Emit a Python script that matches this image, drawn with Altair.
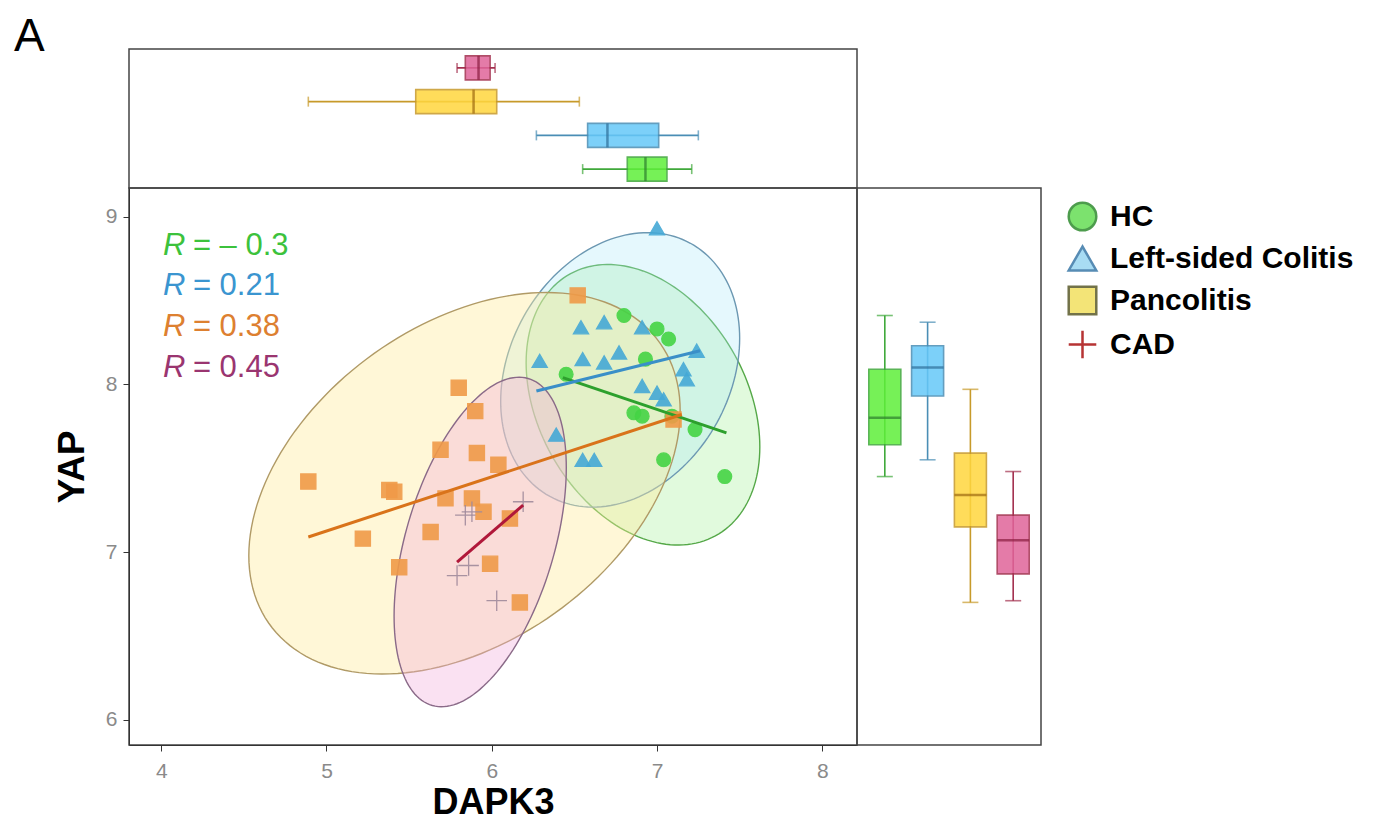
import altair as alt
import numpy as np
import pandas as pd

FONT = "Liberation Sans"
GROUPS = ["HC", "Left-sided Colitis", "Pancolitis", "CAD"]

# ---- scatter values (DAPK3, YAP) ----
HC_X = [6.80, 7.00, 7.07, 6.93, 6.86, 6.91, 7.09, 7.23, 7.04, 7.41, 6.45]
HC_Y = [8.41, 8.33, 8.27, 8.15, 7.83, 7.81, 7.81, 7.73, 7.55, 7.45, 8.06]
LSC_X = [7.00, 6.54, 6.68, 6.91, 6.29, 6.55, 6.68, 6.77, 7.24, 7.16, 7.18, 6.91, 7.00, 6.39, 6.55, 6.62, 7.04]
LSC_Y = [8.93, 8.34, 8.37, 8.34, 8.14, 8.15, 8.13, 8.19, 8.20, 8.09, 8.03, 7.99, 7.95, 7.70, 7.55, 7.55, 7.91]
PANC_X = [4.89, 5.22, 5.41, 5.44, 5.80, 5.90, 5.69, 5.91, 6.04, 5.72, 5.88, 5.95, 6.11, 5.63, 5.99, 6.17, 6.52, 7.10, 5.38]
PANC_Y = [7.42, 7.08, 7.36, 6.91, 7.98, 7.84, 7.61, 7.59, 7.52, 7.32, 7.32, 7.24, 7.20, 7.12, 6.93, 6.70, 8.53, 7.79, 7.37]
CAD_X = [5.84, 5.88, 5.86, 5.79, 6.03, 6.19]
CAD_Y = [7.22, 7.24, 6.92, 6.86, 6.71, 7.30]

# ---- 95% ellipses: centre, half-ranges, correlation ----
ELL_CX = [6.915, 6.777, 5.835, 5.93]
ELL_CY = [7.878, 8.086, 7.41, 7.06]
ELL_A = [0.707, 0.723, 1.305, 0.521]
ELL_B = [0.836, 0.818, 1.137, 0.982]
ELL_R = [-0.30, 0.23, 0.38, 0.45]

# ---- fitted lines (start/end) ----
FIT_X0 = [6.43, 6.27, 4.89, 5.79]
FIT_X1 = [7.42, 7.26, 7.15, 6.19]
FIT_Y0 = [8.04, 7.96, 7.09, 6.94]
FIT_Y1 = [7.71, 8.20, 7.82, 7.28]

# ---- correlation labels ----
R_TEXT = ["= \u2013 0.3", "= 0.21", "= 0.38", "= 0.45"]
R_Y = [8.827, 8.583, 8.339, 8.095]

# ---- marginal boxplots: min, q1, median, q3, max ----
BX_MIN = [6.55, 6.27, 4.89, 5.79]
BX_Q1 = [6.82, 6.58, 5.54, 5.84]
BX_MED = [6.93, 6.70, 5.89, 5.92]
BX_Q3 = [7.06, 7.01, 6.03, 5.99]
BX_MAX = [7.21, 7.25, 6.53, 6.02]
BY_MIN = [7.45, 7.55, 6.70, 6.71]
BY_Q1 = [7.64, 7.93, 7.15, 6.87]
BY_MED = [7.80, 8.10, 7.34, 7.07]
BY_Q3 = [8.09, 8.23, 7.59, 7.22]
BY_MAX = [8.41, 8.37, 7.97, 7.48]

# ---- styles ----
PT_FILL = ["#45D445", "#45A9D6", "#F09A48", "#FFFFFF"]
PT_STROKE = ["#45D445", "#45A9D6", "#F09A48", "#A08A9C"]
PT_SHAPE = ["circle", "triangle-up", "square", "M-1,0H1M0,-1V1"]
PT_SIZE = [190, 230, 230, 420]
PT_FILLED = [True, True, True, False]
LEG_FILL = ["#66DD55", "#9AD6F2", "#F2E060", "#AA1111"]
LEG_STROKE = ["#2E8B2E", "#3A78A8", "#5A5A2A", "#AA1111"]
ELL_FILL = ["#9BF08F", "#A8E8FA", "#FFEA9A", "#F2A8DA"]
ELL_FILL_OP = [0.30, 0.30, 0.40, 0.35]
ELL_STROKE = ["#55A848", "#6C98B2", "#B09A66", "#8A6A88"]
FIT_COL = ["#2DA02D", "#3A8FC8", "#D9731A", "#B0183A"]
R_COL = ["#3CC23C", "#3A95D0", "#DD8030", "#9A3570"]
BOX_FILL = ["#5FEF3A", "#66C8F8", "#FFD63E", "#E0649A"]
BOX_STROKE = ["#3FA83A", "#4A8EB5", "#C79A2A", "#A3304F"]
BOX_MED = ["#2E7D2E", "#2E6E99", "#9E6A10", "#8A1E40"]

X_DOMAIN = [3.805, 8.21]
Y_DOMAIN = [5.85, 9.17]
W_MAIN, H_MAIN = 728, 557
H_TOP, W_RIGHT = 139, 184

xs = alt.Scale(domain=X_DOMAIN, nice=False, zero=False)
ys = alt.Scale(domain=Y_DOMAIN, nice=False, zero=False)
x_axis = alt.Axis(values=[4, 5, 6, 7, 8], title="DAPK3", grid=False, format="d",
                  labelFontSize=21, labelColor="#8a8a8a", labelPadding=9,
                  tickSize=6, tickColor="#333333", domainColor="#333333",
                  titleFontSize=36, titleFontWeight="bold", titleColor="black",
                  titlePadding=4)
y_axis = alt.Axis(values=[6, 7, 8, 9], title="YAP", grid=False, format="d",
                  labelFontSize=21, labelColor="#8a8a8a", labelPadding=6,
                  tickSize=6, tickColor="#333333", domainColor="#333333",
                  titleFontSize=37, titleFontWeight="bold", titleColor="black",
                  titlePadding=14)


def X(field):
    return alt.X(field, type="quantitative", scale=xs, axis=x_axis)


def Y(field):
    return alt.Y(field, type="quantitative", scale=ys, axis=y_axis)


# scatter table
rows = []
for g, xv, yv in zip(GROUPS, [HC_X, LSC_X, PANC_X, CAD_X], [HC_Y, LSC_Y, PANC_Y, CAD_Y]):
    for a, b in zip(xv, yv):
        rows.append({"group": g, "DAPK3": a, "YAP": b})
pts = pd.DataFrame(rows)

layers = []
# ellipses
for i, g in enumerate(GROUPS):
    t = np.linspace(0, 2 * np.pi, 161)
    phi = np.arccos(ELL_R[i])
    edf = pd.DataFrame({
        "i": np.arange(len(t)),
        "ex": ELL_CX[i] + ELL_A[i] * np.cos(t),
        "ey": ELL_CY[i] + ELL_B[i] * np.cos(t - phi),
    })
    layers.append(
        alt.Chart(edf).mark_line(fill=ELL_FILL[i], fillOpacity=ELL_FILL_OP[i],
                                 stroke=ELL_STROKE[i], strokeWidth=1.4)
        .encode(x=X("ex"), y=Y("ey"), order=alt.Order("i:Q"))
    )

# scatter points, one layer per group
for i, g in enumerate(GROUPS):
    base = alt.Chart(pts).transform_filter(alt.datum.group == g)
    if PT_FILLED[i]:
        mk = base.mark_point(shape=PT_SHAPE[i], size=PT_SIZE[i], filled=True,
                             fill=PT_FILL[i], stroke=PT_STROKE[i], strokeWidth=1.3, opacity=0.9)
    else:
        mk = base.mark_point(shape=PT_SHAPE[i], size=PT_SIZE[i], filled=False,
                             stroke=PT_STROKE[i], strokeWidth=1.3, opacity=0.9)
    layers.append(mk.encode(x=X("DAPK3"), y=Y("YAP")))

# legend carrier (invisible points, legend styled like the reference keys)
legend = alt.Legend(
    title=None, orient="none", legendX=938, legendY=152,
    labelFont=FONT, labelFontSize=30, labelFontWeight="bold", labelColor="black",
    labelLimit=500, symbolSize=760, symbolStrokeWidth=2.5, rowPadding=5, labelOffset=12,
    symbolOpacity=1,
)
layers.append(
    alt.Chart(pts).mark_point(filled=True, opacity=0).encode(
        x=X("DAPK3"), y=Y("YAP"),
        fill=alt.Fill("group:N", scale=alt.Scale(domain=GROUPS, range=LEG_FILL), legend=legend),
        stroke=alt.Stroke("group:N", scale=alt.Scale(domain=GROUPS, range=LEG_STROKE), legend=legend),
        shape=alt.Shape("group:N", scale=alt.Scale(domain=GROUPS, range=PT_SHAPE), legend=legend),
    )
)

for i, g in enumerate(GROUPS):
    fdf = pd.DataFrame({"fx": [FIT_X0[i], FIT_X1[i]], "fy": [FIT_Y0[i], FIT_Y1[i]]})
    layers.append(alt.Chart(fdf).mark_line(color=FIT_COL[i], strokeWidth=3).encode(x=X("fx"), y=Y("fy")))

ann = pd.DataFrame({"r": ["R"] * 4, "t": R_TEXT, "ry": R_Y, "c": R_COL, "rx": [4.01] * 4})
layers.append(alt.Chart(ann).mark_text(font=FONT, fontSize=31, fontStyle="italic", align="left", baseline="middle")
              .encode(x=X("rx"), y=Y("ry"), text="r:N", color=alt.Color("c:N", scale=None)))
layers.append(alt.Chart(ann).mark_text(font=FONT, fontSize=31, align="left", baseline="middle", dx=30)
              .encode(x=X("rx"), y=Y("ry"), text="t:N", color=alt.Color("c:N", scale=None)))

main = alt.layer(*layers).properties(width=W_MAIN, height=H_MAIN)

# ---- marginal box tables ----
bx = pd.DataFrame({"group": GROUPS, "lo": BX_MIN, "q1": BX_Q1, "med": BX_MED, "q3": BX_Q3, "hi": BX_MAX,
                   "f": BOX_FILL, "s": BOX_STROKE, "m": BOX_MED})
by = pd.DataFrame({"group": GROUPS, "lo": BY_MIN, "q1": BY_Q1, "med": BY_MED, "q3": BY_Q3, "hi": BY_MAX,
                   "f": BOX_FILL, "s": BOX_STROKE, "m": BOX_MED})

ytop = alt.Y("group:N", scale=alt.Scale(type="point", domain=GROUPS[::-1], padding=0.56), axis=None)
xt = lambda f: alt.X(f, type="quantitative", scale=xs, axis=None)
tb = alt.Chart(bx)
top = alt.layer(
    tb.mark_rule(strokeWidth=1.6).encode(x=xt("lo"), x2="hi", y=ytop, color=alt.Color("s:N", scale=None)),
    tb.mark_bar(size=24, opacity=0.85, strokeWidth=1.6).encode(x=xt("q1"), x2="q3", y=ytop,
                                                              fill=alt.Fill("f:N", scale=None),
                                                              stroke=alt.Stroke("s:N", scale=None)),
    tb.mark_tick(size=24, thickness=2.5).encode(x=xt("med"), y=ytop, color=alt.Color("m:N", scale=None)),
    tb.mark_tick(size=10, thickness=1.6).encode(x=xt("lo"), y=ytop, color=alt.Color("s:N", scale=None)),
    tb.mark_tick(size=10, thickness=1.6).encode(x=xt("hi"), y=ytop, color=alt.Color("s:N", scale=None)),
    alt.Chart(pd.DataFrame({"lab": ["A"]})).mark_text(font=FONT, fontSize=46, align="left",
                                                       baseline="alphabetic", color="black")
    .encode(x=alt.value(-115), y=alt.value(2), text="lab:N"),
).properties(width=W_MAIN, height=H_TOP)

xr = alt.X("group:N", scale=alt.Scale(type="point", domain=GROUPS, padding=0.65), axis=None)
yr = lambda f: alt.Y(f, type="quantitative", scale=ys, axis=None)
rb = alt.Chart(by)
right = alt.layer(
    rb.mark_rule(strokeWidth=1.6).encode(x=xr, y=yr("lo"), y2="hi", color=alt.Color("s:N", scale=None)),
    rb.mark_bar(size=32, opacity=0.85, strokeWidth=1.6).encode(x=xr, y=yr("q1"), y2="q3",
                                                              fill=alt.Fill("f:N", scale=None),
                                                              stroke=alt.Stroke("s:N", scale=None)),
    rb.mark_tick(size=32, thickness=2.5).encode(x=xr, y=yr("med"), color=alt.Color("m:N", scale=None)),
    rb.mark_tick(size=16, thickness=1.6).encode(x=xr, y=yr("lo"), color=alt.Color("s:N", scale=None)),
    rb.mark_tick(size=16, thickness=1.6).encode(x=xr, y=yr("hi"), color=alt.Color("s:N", scale=None)),
).properties(width=W_RIGHT, height=H_MAIN)

chart = alt.vconcat(
    top,
    alt.hconcat(main, right, spacing=0, bounds="flush"),
    spacing=0, bounds="flush",
).properties(
    padding={"left": 5, "top": 5, "right": 10, "bottom": 5},
).configure(font=FONT).configure_view(stroke="#444444", strokeWidth=1.5)

chart.save("out.html", embed_options={"renderer": "svg", "actions": False})
